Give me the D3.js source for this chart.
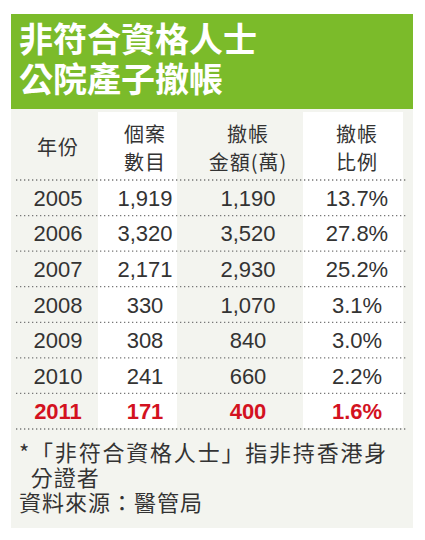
<!DOCTYPE html><html><head><meta charset="utf-8"><script src="https://cdn.jsdelivr.net/npm/d3@7"></script>
<style>body{margin:0;background:#fff}</style></head><body><svg id="c" width="425" height="540"></svg><script>
const years=["2005","2006","2007","2008","2009","2010","2011"];
const cases=["1,919","3,320","2,171","330","308","241","171"];
const amounts=["1,190","3,520","2,930","1,070","840","660","400"];
const ratios=["13.7%","27.8%","25.2%","3.1%","3.0%","2.2%","1.6%"];
const headers=[["年份"],["個案","數目"],["撤帳","金額(萬)"],["撤帳","比例"]];
const titleLines=["非符合資格人士","公院產子撤帳"];
const notes=["*「非符合資格人士」指非持香港身","  分證者","資料來源：醫管局"];
const svg=d3.select("#c");
const F="'Noto Sans CJK TC','Noto Sans CJK SC',sans-serif";
svg.append("rect").attr("x",11).attr("y",14).attr("width",402).attr("height",514).attr("fill","#f3f4ef");
svg.append("rect").attr("x",11).attr("y",14).attr("width",402).attr("height",95).attr("fill","#7bbb2a");
titleLines.forEach((t,i)=>svg.append("text").attr("x",19).attr("y",52+i*40).attr("font-family",F).attr("font-weight",700).attr("font-size",34).attr("fill","#fff").text(t));
const cx=[58,145,248,357];
[[98,177],[303,403]].forEach(b=>svg.append("rect").attr("x",b[0]).attr("y",112).attr("width",b[1]-b[0]).attr("height",316).attr("fill","#fff"));
const y=d3.scaleBand().domain(years).range([180,429]);
headers.forEach((h,i)=>h.forEach((t,j)=>svg.append("text").attr("x",cx[i]).attr("y",h.length==1?155:142+j*28).attr("text-anchor","middle").attr("font-family",F).attr("font-size",20).attr("letter-spacing",1).attr("fill","#333").text(t)));
const lines=[180,...years.map(d=>y(d)+y.bandwidth())];
lines.forEach(v=>svg.append("line").attr("x1",16).attr("x2",408).attr("y1",v).attr("y2",v).attr("stroke","#777").attr("stroke-width",1.3).attr("stroke-dasharray","1.3,2.7"));
const cols=[years,cases,amounts,ratios];
years.forEach((yr,r)=>{const last=r==years.length-1;
 cols.forEach((c,i)=>svg.append("text").attr("x",cx[i]).attr("y",y(yr)+y.bandwidth()/2+8).attr("text-anchor","middle").attr("font-family","'Liberation Sans',Arial,sans-serif").attr("font-weight",last?700:400).attr("font-size",22).attr("fill",last?"#d3121f":"#333").text(c[r]));});
notes.forEach((t,i)=>svg.append("text").attr("x",19).attr("y",461+i*25).attr("font-family",F).attr("font-size",22).attr("letter-spacing",i==0?1.8:1).attr("fill","#333").attr("xml:space","preserve").text(t));
</script></body></html>
